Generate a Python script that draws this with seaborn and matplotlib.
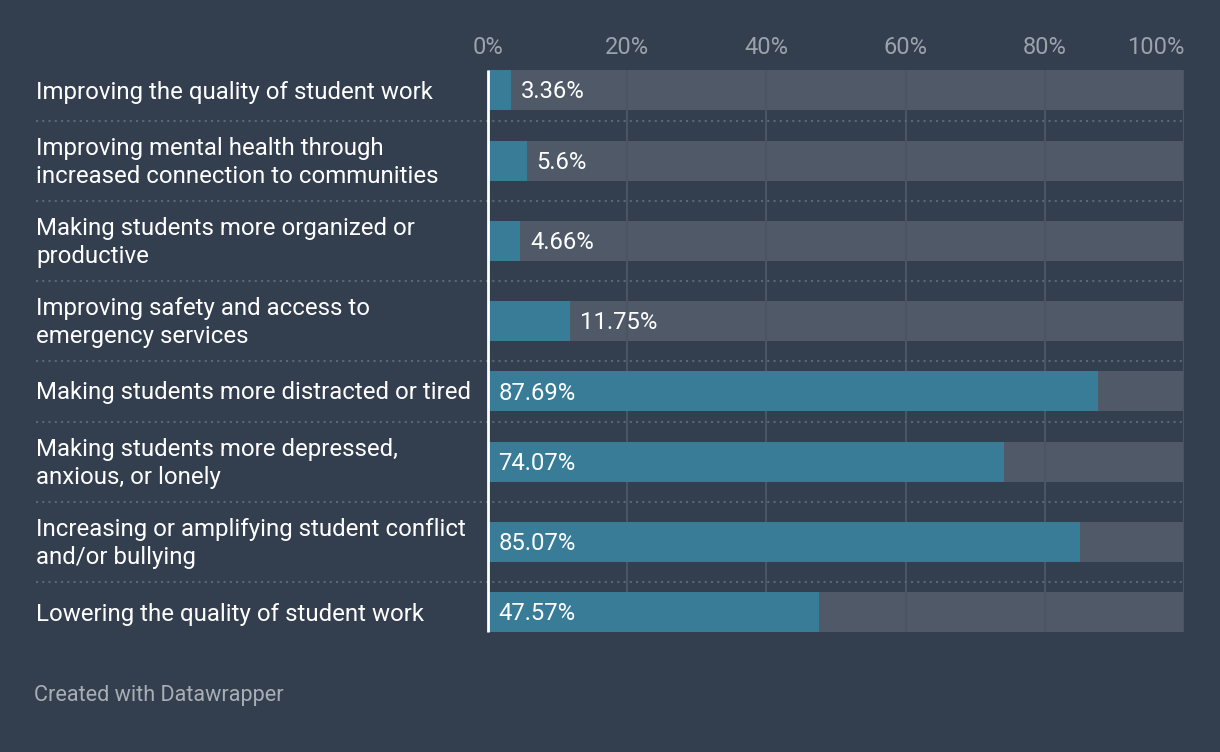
import numpy as np
import pandas as pd
import seaborn as sns
import matplotlib.pyplot as plt
from matplotlib import transforms

labels = [
    "Improving the quality of student work",
    "Improving mental health through\nincreased connection to communities",
    "Making students more organized or\nproductive",
    "Improving safety and access to\nemergency services",
    "Making students more distracted or tired",
    "Making students more depressed,\nanxious, or lonely",
    "Increasing or amplifying student conflict\nand/or bullying",
    "Lowering the quality of student work",
]
values = [3.36, 5.6, 4.66, 11.75, 87.69, 74.07, 85.07, 47.57]
value_text = ["3.36%", "5.6%", "4.66%", "11.75%", "87.69%", "74.07%", "85.07%", "47.57%"]
ticks = [0, 20, 40, 60, 80, 100]
tick_labels = ["0%", "20%", "40%", "60%", "80%", "100%"]

BG = "#333e4f"
TEAL = "#387c97"
GRAY = "#4f5968"
GRID = "#4b5464"
SEP = "#5d6675"
TICK = "#9ba2ab"

W, H = 1220, 752
# row heights in pixels: one-line rows are shorter than two-line rows
top = 59.5
heights = [61 if "\n" not in l else 80 for l in labels]
edges = top + np.concatenate([[0], np.cumsum(heights)])
centers = (edges[:-1] + edges[1:]) / 2

sns.set_theme(style="white")
plt.rcParams["font.family"] = ["Roboto", "DejaVu Sans"]

fig = plt.figure(figsize=(W / 100, H / 100), dpi=100, facecolor=BG)
x0, x1 = 488, 1184
y_top, y_bot = top, edges[-1]
ax = fig.add_axes([x0 / W, 1 - y_bot / H, (x1 - x0) / W, (y_bot - y_top) / H])
ax.set_facecolor(BG)

df = pd.DataFrame({"label": labels, "value": values, "pos": centers, "full": 100.0})

bar_h = 40
width = bar_h / min(np.diff(centers))
sns.barplot(data=df, x="full", y="pos", orient="h", native_scale=True,
            color=GRAY, saturation=1, width=width, ax=ax, zorder=1, linewidth=0)
for t in ticks[1:]:
    ax.plot([t, t], [centers[0] - bar_h / 2, centers[-1] + bar_h / 2],
            color=GRID, lw=1.5, zorder=1.5, solid_capstyle="butt")
sns.barplot(data=df, x="value", y="pos", orient="h", native_scale=True,
            color=TEAL, saturation=1, width=width, ax=ax, zorder=2, linewidth=0)

ax.set_xlim(0, 100)
ax.set_ylim(y_bot, y_top)
ax.plot([0, 0], [centers[0] - bar_h / 2, centers[-1] + bar_h / 2],
        color="white", lw=2, zorder=4, solid_capstyle="butt", clip_on=False)

# dotted separators spanning label column and plot
sep_trans = transforms.blended_transform_factory(fig.transFigure, ax.transData)
for e in edges[1:-1]:
    ax.plot([36 / W, x1 / W], [e, e], transform=sep_trans, color=SEP, lw=1.5,
            ls=(0, (1, 2)), clip_on=False, zorder=3)

# row labels (small downward nudge so text sits centred on the bar)
dy = 2
for lab, c in zip(labels, centers):
    ax.text(36 / W, c + dy, lab, transform=sep_trans, ha="left", va="center",
            color="white", fontsize=17.3, linespacing=1.27)

# value labels
for v, txt, c in zip(values, value_text, centers):
    if v > 20:
        ax.text(1.5, c + dy, txt, ha="left", va="center", color="white", fontsize=17.2, zorder=5)
    else:
        ax.text(v + 1.4, c + dy, txt, ha="left", va="center", color="white", fontsize=17.2, zorder=5)

# top tick labels
ax.set_xticks([])
ax.set_yticks([])
for t, tl in zip(ticks, tick_labels):
    ha = "right" if t == 100 else "center"
    ax.text(t, y_top - 12, tl, ha=ha, va="center", color=TICK, fontsize=17)

for s in ax.spines.values():
    s.set_visible(False)
ax.set_xlabel("")
ax.set_ylabel("")

fig.text(34 / W, 1 - 696 / H, "Created with Datawrapper", ha="left", va="center",
         color="#a9aeb5", fontsize=15.6)

fig.savefig("out.png", dpi=100, facecolor=BG)
